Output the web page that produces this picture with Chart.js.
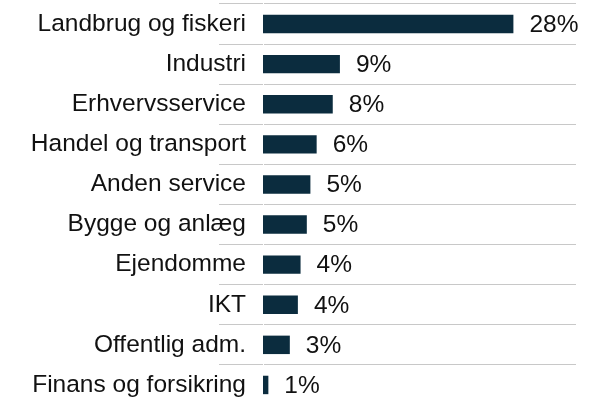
<!DOCTYPE html>
<html>
<head>
<meta charset="utf-8">
<script src="https://cdn.jsdelivr.net/npm/chart.js@4"></script>
<style>
  html, body { margin: 0; padding: 0; background: #fff; overflow: hidden; }
  #chart { display: block; }
</style>
</head>
<body>
<canvas id="chart" width="600" height="406"></canvas>
<script>
// Erhvervsgrupper og andele (%)
const categories = [
  "Landbrug og fiskeri",
  "Industri",
  "Erhvervsservice",
  "Handel og transport",
  "Anden service",
  "Bygge og anlæg",
  "Ejendomme",
  "IKT",
  "Offentlig adm.",
  "Finans og forsikring",
];
const shares = [28, 8.6, 7.8, 6.0, 5.3, 4.9, 4.2, 3.9, 3.0, 0.6];
const shareLabels = ["28%", "9%", "8%", "6%", "5%", "5%", "4%", "4%", "3%", "1%"];

const FONT = "'Liberation Sans', Arial, Helvetica, sans-serif";

// tekst til højre for hver søjle
const valueLabels = {
  id: "valueLabels",
  afterDatasetsDraw(chart) {
    const ctx = chart.ctx;
    const meta = chart.getDatasetMeta(0);
    ctx.save();
    ctx.font = "24.5px " + FONT;
    ctx.fillStyle = "#111";
    ctx.textAlign = "left";
    ctx.textBaseline = "middle";
    meta.data.forEach((bar, i) => {
      ctx.fillText(shareLabels[i], bar.x + 16, bar.y + 1);
    });
    ctx.restore();
  },
};

new Chart(document.getElementById("chart").getContext("2d"), {
  type: "bar",
  data: {
    labels: categories,
    datasets: [
      {
        data: shares,
        backgroundColor: "#0b2c3e",
        borderWidth: 0,
        categoryPercentage: 1,
        barPercentage: 0.46,
      },
    ],
  },
  options: {
    indexAxis: "y",
    responsive: false,
    animation: false,
    layout: { padding: { top: 4, right: 24, bottom: 1, left: 0 } },
    plugins: {
      legend: { display: false },
      tooltip: { enabled: false },
    },
    scales: {
      x: { display: false, min: 0, max: 35 },
      y: {
        afterFit: (scale) => {
          scale.width = 263;
        },
        grid: {
          offset: true,
          color: "#c8c8c8",
          lineWidth: 1,
          drawTicks: true,
          tickColor: "#c8c8c8",
          tickWidth: 1,
          tickLength: 44,
        },
        border: { display: true, color: "#fff", width: 1 },
        ticks: {
          padding: -27,
          color: "#111",
          font: { family: FONT, size: 24.5 },
        },
      },
    },
  },
  plugins: [valueLabels],
});
</script>
</body>
</html>
